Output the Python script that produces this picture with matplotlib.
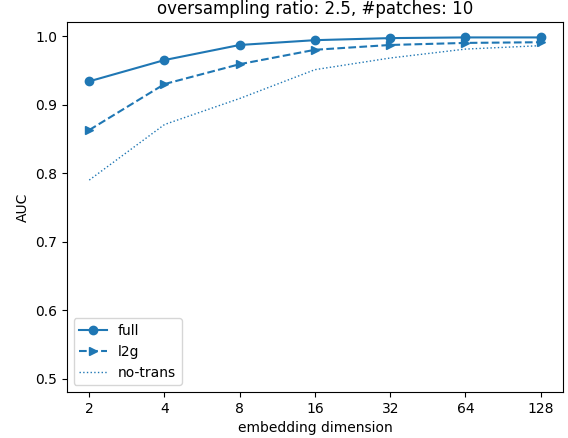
import numpy as np
import matplotlib
matplotlib.use('Agg')
import matplotlib.pyplot as plt

dims = [2, 4, 8, 16, 32, 64, 128]
auc_full = [0.934, 0.965, 0.987, 0.994, 0.997, 0.998, 0.998]
auc_l2g = [0.863, 0.930, 0.959, 0.980, 0.987, 0.990, 0.991]
auc_notrans = [0.790, 0.871, 0.909, 0.951, 0.968, 0.981, 0.986]

fig = plt.figure(figsize=(5.68, 4.38), dpi=100)
ax = fig.add_axes([0.1174, 0.105, 0.8743, 0.844])
ax.plot(dims, auc_full, color='C0', marker='o', linestyle='-', label='full')
ax.plot(dims, auc_l2g, color='C0', marker='>', linestyle='--', label='l2g')
ax.plot(dims, auc_notrans, color='C0', linestyle=':', linewidth=1, label='no-trans')
ax.set_xscale('log', base=2)
ax.set_xticks(dims)
ax.set_xticklabels([str(d) for d in dims])
ax.minorticks_off()
ax.set_ylim(0.481, 1.020)
ax.set_xlabel('embedding dimension')
ax.set_ylabel('AUC')
ax.set_title('oversampling ratio: 2.5, #patches: 10')
ax.legend(loc='lower left')
fig.savefig('out.png')
